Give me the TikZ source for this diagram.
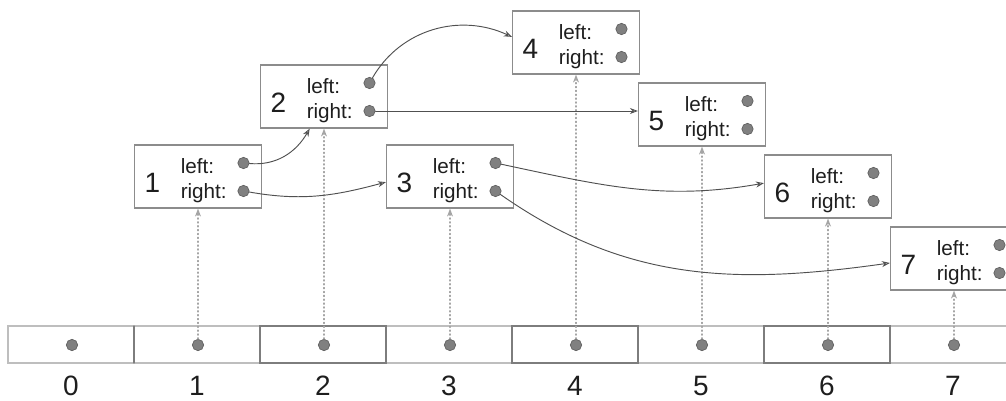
\documentclass[tikz,border=0pt]{standalone}
\usepackage{fontspec}
\setmainfont{Liberation Sans}
\usetikzlibrary{arrows.meta}
\definecolor{cframe}{RGB}{140,140,140}
\definecolor{ctext}{RGB}{30,30,30}
\definecolor{cdot}{RGB}{128,128,128}
\definecolor{cdotline}{RGB}{95,95,95}
\definecolor{clink}{RGB}{80,80,80}
\definecolor{cslot}{RGB}{165,165,165}
\definecolor{cgrid}{RGB}{190,190,190}
\definecolor{ccell}{RGB}{125,125,125}

\tikzset{
  rec/.style={draw=cframe,line width=0.9pt,minimum width=95.25pt,minimum height=47.25pt,inner sep=0pt},
  pin/.style={circle,fill=cdot,draw=cdotline,line width=0.5pt,minimum size=8.5pt,inner sep=0pt},
  field/.style={anchor=base west,inner sep=0pt,text=ctext,font=\fontsize{15.5}{18}\selectfont},
  num/.style={anchor=base,inner sep=0pt,text=ctext,font=\fontsize{21}{24}\selectfont},
  link/.style={->,draw=clink,line width=0.7pt},
  slot/.style={->,draw=cslot,line width=0.9pt,dotted},
}

\begin{document}
\begin{tikzpicture}[>={Stealth[open,length=6pt,width=4.5pt]},line cap=round,x=0.75pt,y=-0.75pt]
\useasboundingbox (0,0) rectangle (1006,400);
\clip (0,0) rectangle (1006,400);
% ---------- array ----------
\draw[cgrid,line width=0.9pt] (8,326) rectangle (1030,363);
\foreach \k in {2,4,6}
  \draw[ccell,line width=0.8pt] ({8+126*\k},326) rectangle ({134+126*\k},363);
\draw[ccell,line width=0.8pt] (134,326) -- (134,363);
\foreach \k in {0,...,7}{
  \node[pin] (a\k) at ({72+126*\k},345) {};
  \node[num] (c\k) at ({71+126*\k},395) {\k};
}
% ---------- tree nodes ----------
\foreach \k/\t in {1/145,2/65,3/145,4/11,5/83,6/155,7/227}{
  \node[rec] (b\k) at ({72+126*\k},{\t+31.5}) {};
  \node[num] (n\k) at ({26.5+126*\k},{\t+47}) {\k};
  \node[field] (fl\k) at ({54.5+126*\k},{\t+28}) {left:};
  \node[field] (fr\k) at ({54.5+126*\k},{\t+53}) {right:};
  \node[pin] (l\k) at ({117.5+126*\k},{\t+18}) {};
  \node[pin] (r\k) at ({117.5+126*\k},{\t+46}) {};
}
% ---------- array slots point to nodes ----------
\foreach \k in {1,...,7}
  \draw[slot] (a\k) -- (a\k |- b\k.south);
% ---------- child links ----------
\draw[link] (l1) to[out=-5,in=-120] (b2.246);
\draw[link] (r1) to[out=-10,in=195] (b3.185);
\draw[link] (l2) to[out=60,in=155] (b4.175);
\draw[link] (r2) -- (r2 -| b5.west);
\draw[link] (l3) to[out=-12,in=190] (b6.177);
\draw[link] (r3) to[out=-35,in=188] (b7.184);
\end{tikzpicture}
\end{document}
